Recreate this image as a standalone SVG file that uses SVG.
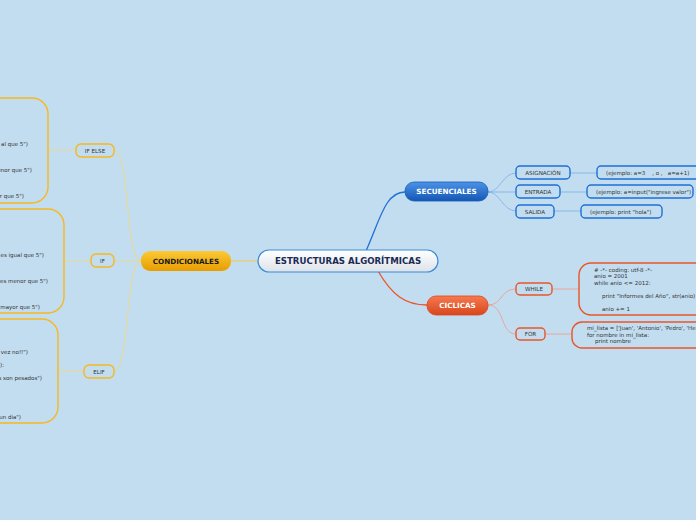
<svg xmlns="http://www.w3.org/2000/svg" width="696" height="520" viewBox="0 0 696 520">
<defs>
<linearGradient id="gC" x1="0" y1="0" x2="0" y2="1"><stop offset="0" stop-color="#ffffff"/><stop offset="1" stop-color="#dde3ea"/></linearGradient>
<linearGradient id="gB" x1="0" y1="0" x2="0" y2="1"><stop offset="0" stop-color="#4b93e6"/><stop offset="1" stop-color="#1457b5"/></linearGradient>
<linearGradient id="gR" x1="0" y1="0" x2="0" y2="1"><stop offset="0" stop-color="#f57a50"/><stop offset="1" stop-color="#d9461c"/></linearGradient>
<linearGradient id="gY" x1="0" y1="0" x2="0" y2="1"><stop offset="0" stop-color="#fcc935"/><stop offset="1" stop-color="#e89d00"/></linearGradient>
</defs>
<style>
text{font-family:"DejaVu Sans","Verdana",sans-serif;fill:#333;}
.t{font-size:5.5px;white-space:pre;}
.s{font-size:5.6px;text-anchor:middle;}
.bsub{fill:none;stroke:#1e6fd6;stroke-width:1.4;}
.rsub{fill:none;stroke:#ea5428;stroke-width:1.4;}
.ysub{fill:none;stroke:#f6b81e;stroke-width:1.4;}
.main{font-weight:bold;font-size:7.2px;text-anchor:middle;}
</style>
<rect width="696" height="520" fill="#c2ddf0"/>
<g id="connectors" fill="none">
<path d="M231,261 L258,261" stroke="#f2c94c" stroke-width="1"/>
<path d="M366,251 C380,220 385,192 405,192" stroke="#1e6fd6" stroke-width="1.3"/>
<path d="M378,271 C392,295 405,305 427,305" stroke="#ea5428" stroke-width="1.3"/>
<path d="M488,192 C500,192 503,173 516,173" stroke="#7aaee6" stroke-width="0.8"/>
<path d="M488,192 L516,192" stroke="#7aaee6" stroke-width="0.8"/>
<path d="M488,192 C500,192 503,211 516,211" stroke="#7aaee6" stroke-width="0.8"/>
<path d="M570,173 L597,173" stroke="#7aaee6" stroke-width="0.8"/>
<path d="M560,192 L587,192" stroke="#7aaee6" stroke-width="0.8"/>
<path d="M554,211 L581,211" stroke="#7aaee6" stroke-width="0.8"/>
<path d="M488,305 C503,305 500,289 516,289" stroke="#ee9a85" stroke-width="0.8"/>
<path d="M488,305 C505,305 500,334 516,334" stroke="#ee9a85" stroke-width="0.8"/>
<path d="M552,289 L579,289" stroke="#ee9a85" stroke-width="0.8"/>
<path d="M545,334 L572,334" stroke="#ee9a85" stroke-width="0.8"/>
<path d="M141,261 C125,261 130,150 114,150" stroke="#f2d77a" stroke-width="0.8"/>
<path d="M141,261 L114,261" stroke="#f2d77a" stroke-width="0.8"/>
<path d="M141,261 C125,261 130,371 114,371" stroke="#f2d77a" stroke-width="0.8"/>
<path d="M76,150 L48,150" stroke="#f2d77a" stroke-width="0.8"/>
<path d="M91,261 L64,261" stroke="#f2d77a" stroke-width="0.8"/>
<path d="M84,371 L58,371" stroke="#f2d77a" stroke-width="0.8"/>
</g>
<g id="central">
<rect x="258" y="250" width="180" height="22" rx="11" fill="url(#gC)" stroke="#3b8ad8" stroke-width="1.2"/>
<text x="348" y="264.2" style="font-weight:bold;font-size:8.6px;text-anchor:middle;fill:#1a2a55">ESTRUCTURAS ALGORÍTMICAS</text>
</g>
<g id="condicionales">
<rect x="141" y="251" width="90" height="20" rx="9" fill="url(#gY)"/>
<text x="186" y="263.6" class="main" style="fill:#1a1a1a">CONDICIONALES</text>
</g>
<g id="secuenciales">
<rect x="405" y="182" width="83" height="19" rx="9" fill="url(#gB)" stroke="#1a5cb8" stroke-width="0.8"/>
<text x="446.5" y="194.2" class="main" style="fill:#ffffff">SECUENCIALES</text>
</g>
<g id="ciclicas">
<rect x="427" y="296" width="61" height="19" rx="9" fill="url(#gR)" stroke="#d9461c" stroke-width="0.8"/>
<text x="457.5" y="308.2" class="main" style="fill:#ffffff">CICLICAS</text>
</g>
<g id="asignacion"><rect x="516" y="166" width="54" height="13" rx="4" class="bsub"/><text x="543" y="174.6" class="s">ASIGNACIÓN</text></g>
<g id="entrada"><rect x="516" y="185" width="44" height="13" rx="4" class="bsub"/><text x="538" y="193.6" class="s">ENTRADA</text></g>
<g id="salida"><rect x="516" y="205" width="38" height="13" rx="4" class="bsub"/><text x="535" y="213.6" class="s">SALIDA</text></g>
<g id="ej-asignacion"><rect x="597" y="166" width="104" height="13" rx="4" class="bsub"/><text x="606" y="174.6" class="t">(ejemplo: a=3    , o ,   a=a+1)</text></g>
<g id="ej-entrada"><rect x="587" y="185" width="106" height="13" rx="4" class="bsub"/><text x="596" y="193.6" class="t">(ejemplo: a=input("ingrese valor")</text></g>
<g id="ej-salida"><rect x="581" y="205" width="81" height="13" rx="4" class="bsub"/><text x="590" y="213.6" class="t">(ejemplo: print "hola")</text></g>
<g id="while"><rect x="516" y="283" width="36" height="12" rx="4" class="rsub"/><text x="534" y="290.8" class="s">WHILE</text></g>
<g id="for"><rect x="516" y="328" width="29" height="12" rx="4" class="rsub"/><text x="530.5" y="335.8" class="s">FOR</text></g>
<g id="while-code"><rect x="579" y="263" width="130" height="52" rx="12" class="rsub"/>
<text class="t"><tspan x="594" y="271.5"># -*- coding: utf-8 -*-</tspan><tspan x="594" y="277.5">anio = 2001</tspan><tspan x="594" y="284.5">while anio &lt;= 2012:</tspan><tspan x="602" y="297.5">print "Informes del Año", str(anio)</tspan><tspan x="602" y="310.5">anio += 1</tspan></text></g>
<g id="for-code"><rect x="572" y="322" width="140" height="26" rx="10" class="rsub"/>
<text class="t"><tspan x="587" y="329.5">mi_lista = ['Juan', 'Antonio', 'Pedro', 'He</tspan><tspan x="587" y="336.5">for nombre in mi_lista:</tspan><tspan x="595" y="342.5">print nombre</tspan></text></g>
<g id="if-else"><rect x="76" y="144" width="38" height="13" rx="5" class="ysub"/><text x="95" y="152.6" class="s">IF ELSE</text></g>
<g id="if"><rect x="91" y="254" width="23" height="13" rx="5" class="ysub"/><text x="102.5" y="262.6" class="s">IF</text></g>
<g id="elif"><rect x="84" y="365" width="30" height="13" rx="5" class="ysub"/><text x="99" y="373.6" class="s">ELIF</text></g>
<g id="if-else-code"><rect x="-40" y="98" width="88" height="105" rx="16" class="ysub"/>
<text class="t" style="text-anchor:end"><tspan x="28" y="145.5">al que 5")</tspan><tspan x="32" y="171.5">enor que 5")</tspan><tspan x="24" y="197.5">r que 5")</tspan></text></g>
<g id="if-code"><rect x="-40" y="209" width="104" height="104" rx="16" class="ysub"/>
<text class="t" style="text-anchor:end"><tspan x="44" y="256.5">es igual que 5")</tspan><tspan x="48" y="282.5">es menor que 5")</tspan><tspan x="40" y="308.5">mayor que 5")</tspan></text></g>
<g id="elif-code"><rect x="-40" y="319" width="98" height="104" rx="16" class="ysub"/>
<text class="t" style="text-anchor:end"><tspan x="28" y="353.5"> vez no!!")</tspan><tspan x="4" y="366.5">):</tspan><tspan x="42" y="379.5">s son pesados")</tspan><tspan x="21" y="418.5">un dia")</tspan></text></g>
</svg>
